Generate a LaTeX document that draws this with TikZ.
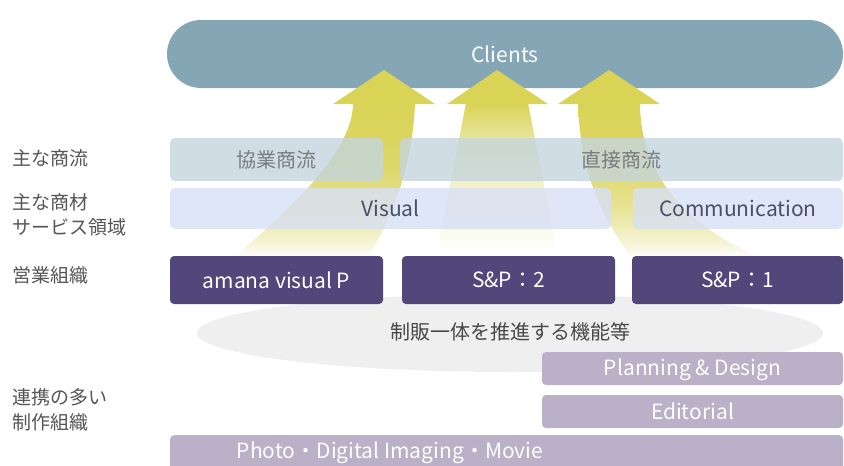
\documentclass[tikz,border=0pt]{standalone}
\usepackage{fontspec}
\setmainfont{Noto Sans CJK JP}
\usetikzlibrary{shapes.geometric}
\definecolor{ay}{HTML}{D9D356}
\definecolor{clientc}{HTML}{85A6B5}
\definecolor{flowc}{HTML}{C4D5DD}
\definecolor{flowtext}{HTML}{787D80}
\definecolor{areac}{HTML}{D7E0F5}
\definecolor{areatext}{HTML}{4A4F68}
\definecolor{salesc}{HTML}{51477A}
\definecolor{prodc}{HTML}{BAB0C8}
\definecolor{ellc}{HTML}{EFEFEF}
\definecolor{elltext}{HTML}{474747}
\definecolor{labelgrey}{HTML}{555555}
\pgfdeclareverticalshading{sidefade}{100bp}{color(0bp)=(white); color(25bp)=(white); color(30bp)=(ay!25!white); color(40bp)=(ay!60!white); color(55bp)=(ay!90!white); color(75bp)=(ay); color(100bp)=(ay)}
\pgfdeclareverticalshading{midfade}{100bp}{color(0bp)=(white); color(25bp)=(white); color(35bp)=(ay!15!white); color(50bp)=(ay!35!white); color(65bp)=(ay!65!white); color(75bp)=(ay); color(100bp)=(ay)}
\tikzset{
  lbl/.style={font=\fontsize{19}{25}\selectfont, text=labelgrey, anchor=west, align=left, inner sep=0pt},
  basebox/.style={inner sep=0pt, font=\fontsize{20}{24}\selectfont},
  latin/.style={font=\fontsize{21}{24}\selectfont},
  flowbox/.style={basebox, fill=flowc, fill opacity=0.8, text opacity=1, rounded corners=5pt, text=flowtext, minimum height=43pt},
  areabox/.style={basebox, latin, fill=areac, fill opacity=0.8, text opacity=1, rounded corners=5pt, text=areatext, minimum height=41pt},
  salesbox/.style={basebox, latin, fill=salesc, rounded corners=4pt, text=white, minimum height=48pt},
  prodbox/.style={basebox, latin, fill=prodc, rounded corners=4pt, text=white},
  headc/.style={fill=ay},
}
\begin{document}
\begin{tikzpicture}[x=1pt,y=-1pt]
\useasboundingbox (0,0) rectangle (844,466);
\clip (0,0) rectangle (844,466);
% Clients
\node[basebox, latin, fill=clientc, rounded corners=34pt, minimum width=676pt, minimum height=68pt, text=white] (clients) at (505,54) {Clients};
% arrow shafts
\shade[shading=sidefade] (353,103) -- (415,103) .. controls (413,160) and (395,215) .. (367,258) -- (233,258) .. controls (295,205) and (353,150) .. (353,103) -- cycle;
\shade[shading=midfade] (466,103) -- (528,103) -- (557,252) -- (437,252) -- cycle;
\shade[shading=sidefade] (578,103) -- (640,103) .. controls (640,160) and (670,220) .. (762,258) -- (632,258) .. controls (600,215) and (580,170) .. (578,103) -- cycle;
% arrow heads
\fill[headc] (333,104) -- (384,70) -- (435,104) -- cycle;
\fill[headc] (447,104) -- (497,70) -- (548,104) -- cycle;
\fill[headc] (558,104) -- (609,70) -- (660,104) -- cycle;
% flow boxes
\node[flowbox, minimum width=213pt] (kyo) at (276.5,159.5) {協業商流};
\node[flowbox, minimum width=443pt] (choku) at (621.5,159.5) {直接商流};
% area boxes
\node[areabox, minimum width=441pt] (visual) at (390.5,208.5) {Visual};
\node[areabox, minimum width=210pt] (comm) at (738,208.5) {Communication};
% ellipse
\node[ellipse, fill=ellc, inner sep=0pt, minimum width=626pt, minimum height=78pt] (func) at (510,333) {};
\node[text=elltext, font=\fontsize{20}{24}\selectfont, inner sep=0pt] (functext) at (510,332) {制販一体を推進する機能等};
% sales boxes
\node[salesbox, minimum width=213pt] (avp) at (276.5,280) {amana visual P};
\node[salesbox, minimum width=213pt] (sp2) at (508.5,280) {S\&P：2};
\node[salesbox, minimum width=211pt] (sp1) at (737.5,280) {S\&P：1};
% production boxes
\node[prodbox, minimum width=301pt, minimum height=33pt] (plan) at (692.5,368.5) {};
\node[text=white, latin, inner sep=0pt] (plantext) at (692.5,370) {Planning \& Design};
\node[prodbox, minimum width=301pt, minimum height=33pt] (edit) at (692.5,411.5) {Editorial};
\node[prodbox, minimum width=673pt, minimum height=38pt, anchor=north west] (photo) at (170,435) {};
\node[text=white, latin, inner sep=0pt] (phototext) at (390,453) {Photo・Digital Imaging・Movie};
% left labels
\node[lbl] (l1) at (12,158) {主な商流};
\node[lbl] (l2) at (12,215) {主な商材\\サービス領域};
\node[lbl] (l3) at (12,275) {営業組織};
\node[lbl] (l4) at (12,409.5) {連携の多い\\制作組織};
\end{tikzpicture}
\end{document}
